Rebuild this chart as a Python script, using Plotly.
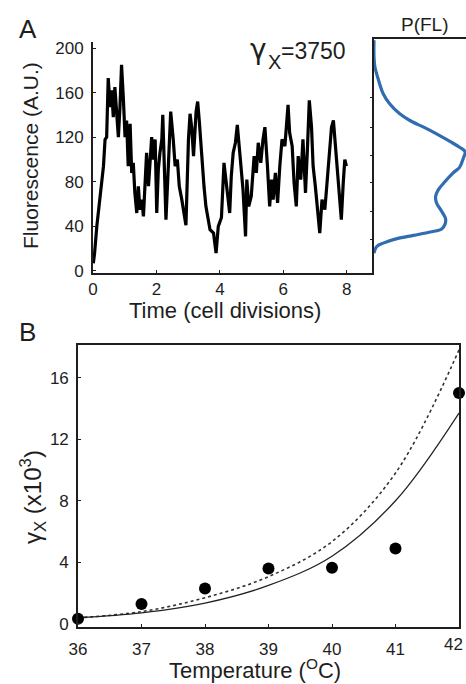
import plotly.graph_objects as go

# ---------------- data ----------------
# Panel A: fluorescence time trace
time_div = [0.01, 0.05, 0.12, 0.17, 0.22, 0.28, 0.33, 0.38, 0.43, 0.48, 0.54, 0.59, 0.64, 0.69,
            0.75, 0.80, 0.85, 0.90, 0.96, 1.01, 1.06, 1.11, 1.17, 1.22, 1.27, 1.32, 1.38, 1.43,
            1.48, 1.54, 1.59, 1.64, 1.69, 1.75, 1.80, 1.85, 1.90, 1.96, 2.01, 2.06, 2.11, 2.17,
            2.20, 2.24, 2.30, 2.38, 2.45, 2.53, 2.59, 2.66, 2.72, 2.80, 2.87, 2.93, 3.01, 3.06,
            3.11, 3.17, 3.25, 3.30, 3.35, 3.43, 3.50, 3.56, 3.64, 3.69, 3.80, 3.88, 3.95, 4.05,
            4.13, 4.21, 4.31, 4.36, 4.42, 4.49, 4.55, 4.60, 4.66, 4.73, 4.81, 4.85, 4.91, 4.99,
            5.08, 5.15, 5.21, 5.29, 5.36, 5.42, 5.50, 5.57, 5.63, 5.68, 5.75, 5.82, 5.89, 5.96,
            6.05, 6.10, 6.15, 6.20, 6.28, 6.34, 6.41, 6.47, 6.55, 6.62, 6.70, 6.76, 6.82, 6.89,
            6.94, 7.01, 7.10, 7.15, 7.22, 7.31, 7.37, 7.43, 7.52, 7.58, 7.65, 7.71, 7.78, 7.83,
            7.89, 7.94, 7.99]
fluor = [7, 16, 40, 52, 64, 82, 94, 118, 120, 173, 147, 162, 138, 165,
         135, 120, 147, 185, 153, 120, 135, 94, 132, 88, 97, 70, 52, 76,
         55, 64, 49, 76, 106, 76, 94, 120, 100, 118, 52, 91, 106, 118,
         140, 106, 46, 97, 143, 118, 94, 100, 76, 64, 52, 41, 118, 141,
         129, 103, 143, 152, 135, 100, 76, 58, 46, 37, 34, 16, 40, 48,
         97, 79, 52, 85, 106, 115, 131, 115, 94, 73, 31, 82, 58, 67,
         103, 88, 115, 97, 118, 129, 94, 58, 82, 64, 88, 61, 94, 118,
         112, 132, 149, 124, 112, 79, 58, 103, 82, 118, 70, 109, 153, 129,
         94, 76, 52, 34, 64, 55, 76, 100, 129, 135, 109, 82, 58, 46,
         79, 100, 94]

# Panel A side: distribution P(FL)
pfl_p = [0.0, 0.0, 0.01, 0.05, 0.10, 0.17, 0.28, 0.39, 0.54, 0.68, 0.83, 0.93, 0.99,
         0.97, 0.93, 0.86, 0.77, 0.70, 0.67, 0.68, 0.74, 0.78, 0.74, 0.61, 0.43, 0.25,
         0.10, 0.03, 0.0]
pfl_fl = [207, 192, 183, 171, 159, 150, 141, 135, 129, 123, 116, 111, 107,
          101, 93, 88, 80, 73, 67, 61, 53, 46, 38, 35, 32, 29,
          25, 22, 16]

# Panel B
temp_c = [36, 37, 38, 39, 40, 41, 42]
gamma_obs = [0.33, 1.3, 2.3, 3.6, 3.65, 4.9, 15.0]
fit_solid = [0.4, 0.72, 1.35, 2.5, 4.4, 8.0, 13.7]
fit_dotted = [0.4, 0.8, 1.7, 3.07, 5.35, 9.8, 17.8]

A_xticks = [0, 2, 4, 6, 8]
A_yticks = [0, 40, 80, 120, 160, 200]
B_xticks = [36, 37, 38, 39, 40, 41, 42]
B_yticks = [0, 4, 8, 12, 16]

# ---------------- layout helpers ----------------
W, H = 466, 684
FONT = "Liberation Sans, Arial, sans-serif"
INK = "#1e1e1e"


def px(x):
    return x / W


def py(y):
    return 1 - y / H


fig = go.Figure()

fig.add_trace(go.Scatter(x=time_div, y=fluor, mode="lines",
                         line=dict(color="black", width=3.2),
                         xaxis="x", yaxis="y", showlegend=False))
fig.add_trace(go.Scatter(x=pfl_p, y=pfl_fl, mode="lines",
                         line=dict(color="#2f6db0", width=3.2, shape="spline"),
                         xaxis="x2", yaxis="y2", showlegend=False))
fig.add_trace(go.Scatter(x=temp_c, y=fit_dotted, mode="lines",
                         line=dict(color="#333", width=1.6, dash="dot", shape="spline"),
                         xaxis="x3", yaxis="y3", showlegend=False))
fig.add_trace(go.Scatter(x=temp_c, y=fit_solid, mode="lines",
                         line=dict(color="#222", width=1.3, shape="spline"),
                         xaxis="x3", yaxis="y3", showlegend=False))
fig.add_trace(go.Scatter(x=temp_c, y=gamma_obs, mode="markers",
                         marker=dict(color="black", size=12),
                         cliponaxis=False,
                         xaxis="x3", yaxis="y3", showlegend=False))

tickfont = dict(family=FONT, size=17, color=INK)
common = dict(showgrid=False, zeroline=False, showline=True, linecolor=INK,
              ticks="inside", ticklen=3, tickcolor=INK, tickfont=tickfont,
              automargin=False)

# last x tick label of panel B is drawn separately (nudged left to fit the page)
B_xticktext = [str(v) for v in B_xticks[:-1]] + [""]

fig.update_layout(
    width=W, height=H,
    margin=dict(l=0, r=0, t=0, b=0, pad=0),
    paper_bgcolor="white", plot_bgcolor="white",
    showlegend=False,
    xaxis=dict(domain=[px(93), px(374)], range=[0, 8.86], tickvals=A_xticks,
               anchor="y", linewidth=2, **common),
    yaxis=dict(domain=[py(273), py(42)], range=[-1.8, 205.4], tickvals=A_yticks,
               anchor="x", linewidth=2, ticklabelstandoff=4, **common),
    xaxis2=dict(domain=[px(374), 1.0], range=[0, 1.0], anchor="y2", side="top",
                showline=True, linecolor=INK, linewidth=2, showgrid=False,
                zeroline=False, showticklabels=False, ticks="", automargin=False),
    yaxis2=dict(domain=[py(273), py(39)], range=[-1.8, 208.1], anchor="x2",
                showline=True, linecolor=INK, linewidth=2, showgrid=False,
                zeroline=False, showticklabels=False, ticks="outside", ticklen=2,
                tickcolor=INK, tickvals=[28, 53, 79, 104, 129, 156], automargin=False),
    xaxis3=dict(domain=[px(78), px(459)], range=[36, 42], tickvals=B_xticks,
                ticktext=B_xticktext,
                anchor="y3", mirror=True, linewidth=1.6, ticklabelstandoff=6, **common),
    yaxis3=dict(domain=[py(627), py(345)], range=[-0.2, 18.12], tickvals=B_yticks,
                anchor="x3", mirror=True, linewidth=1.6, ticklabelstandoff=4, **common),
)

ann = []


def text(t, x, y, size, angle=0, xanchor="center", yanchor="middle", family=FONT):
    ann.append(dict(text=t, x=px(x), y=py(y), xref="paper", yref="paper",
                    showarrow=False, textangle=angle, xanchor=xanchor, yanchor=yanchor,
                    font=dict(family=family, size=size, color=INK)))


text("A", 28, 29, 26)
text("B", 27, 332, 26)
text("P(FL)", 425, 24, 19)
text("γ", 258, 50, 28, family="DejaVu Sans, sans-serif")
text("X", 274, 62, 20)
text("=3750", 313, 51, 23)
text("Fluorescence (A.U.)", 30, 156, 21, angle=-90)
text("Time (cell divisions)", 225, 310, 22)
text("γ<sub>X</sub> (x10<sup>3</sup>)", 33, 497, 24, angle=-90)
text("Temperature (<sup>O</sup>C)", 255, 669, 22)
text(str(B_xticks[-1]), 465, 644, 17, xanchor="right")

fig.update_layout(annotations=ann)

fig.write_html(
    "out.html",
    config={"displayModeBar": False},
    post_script="document.body.style.margin='0';document.body.style.overflow='hidden';",
)
